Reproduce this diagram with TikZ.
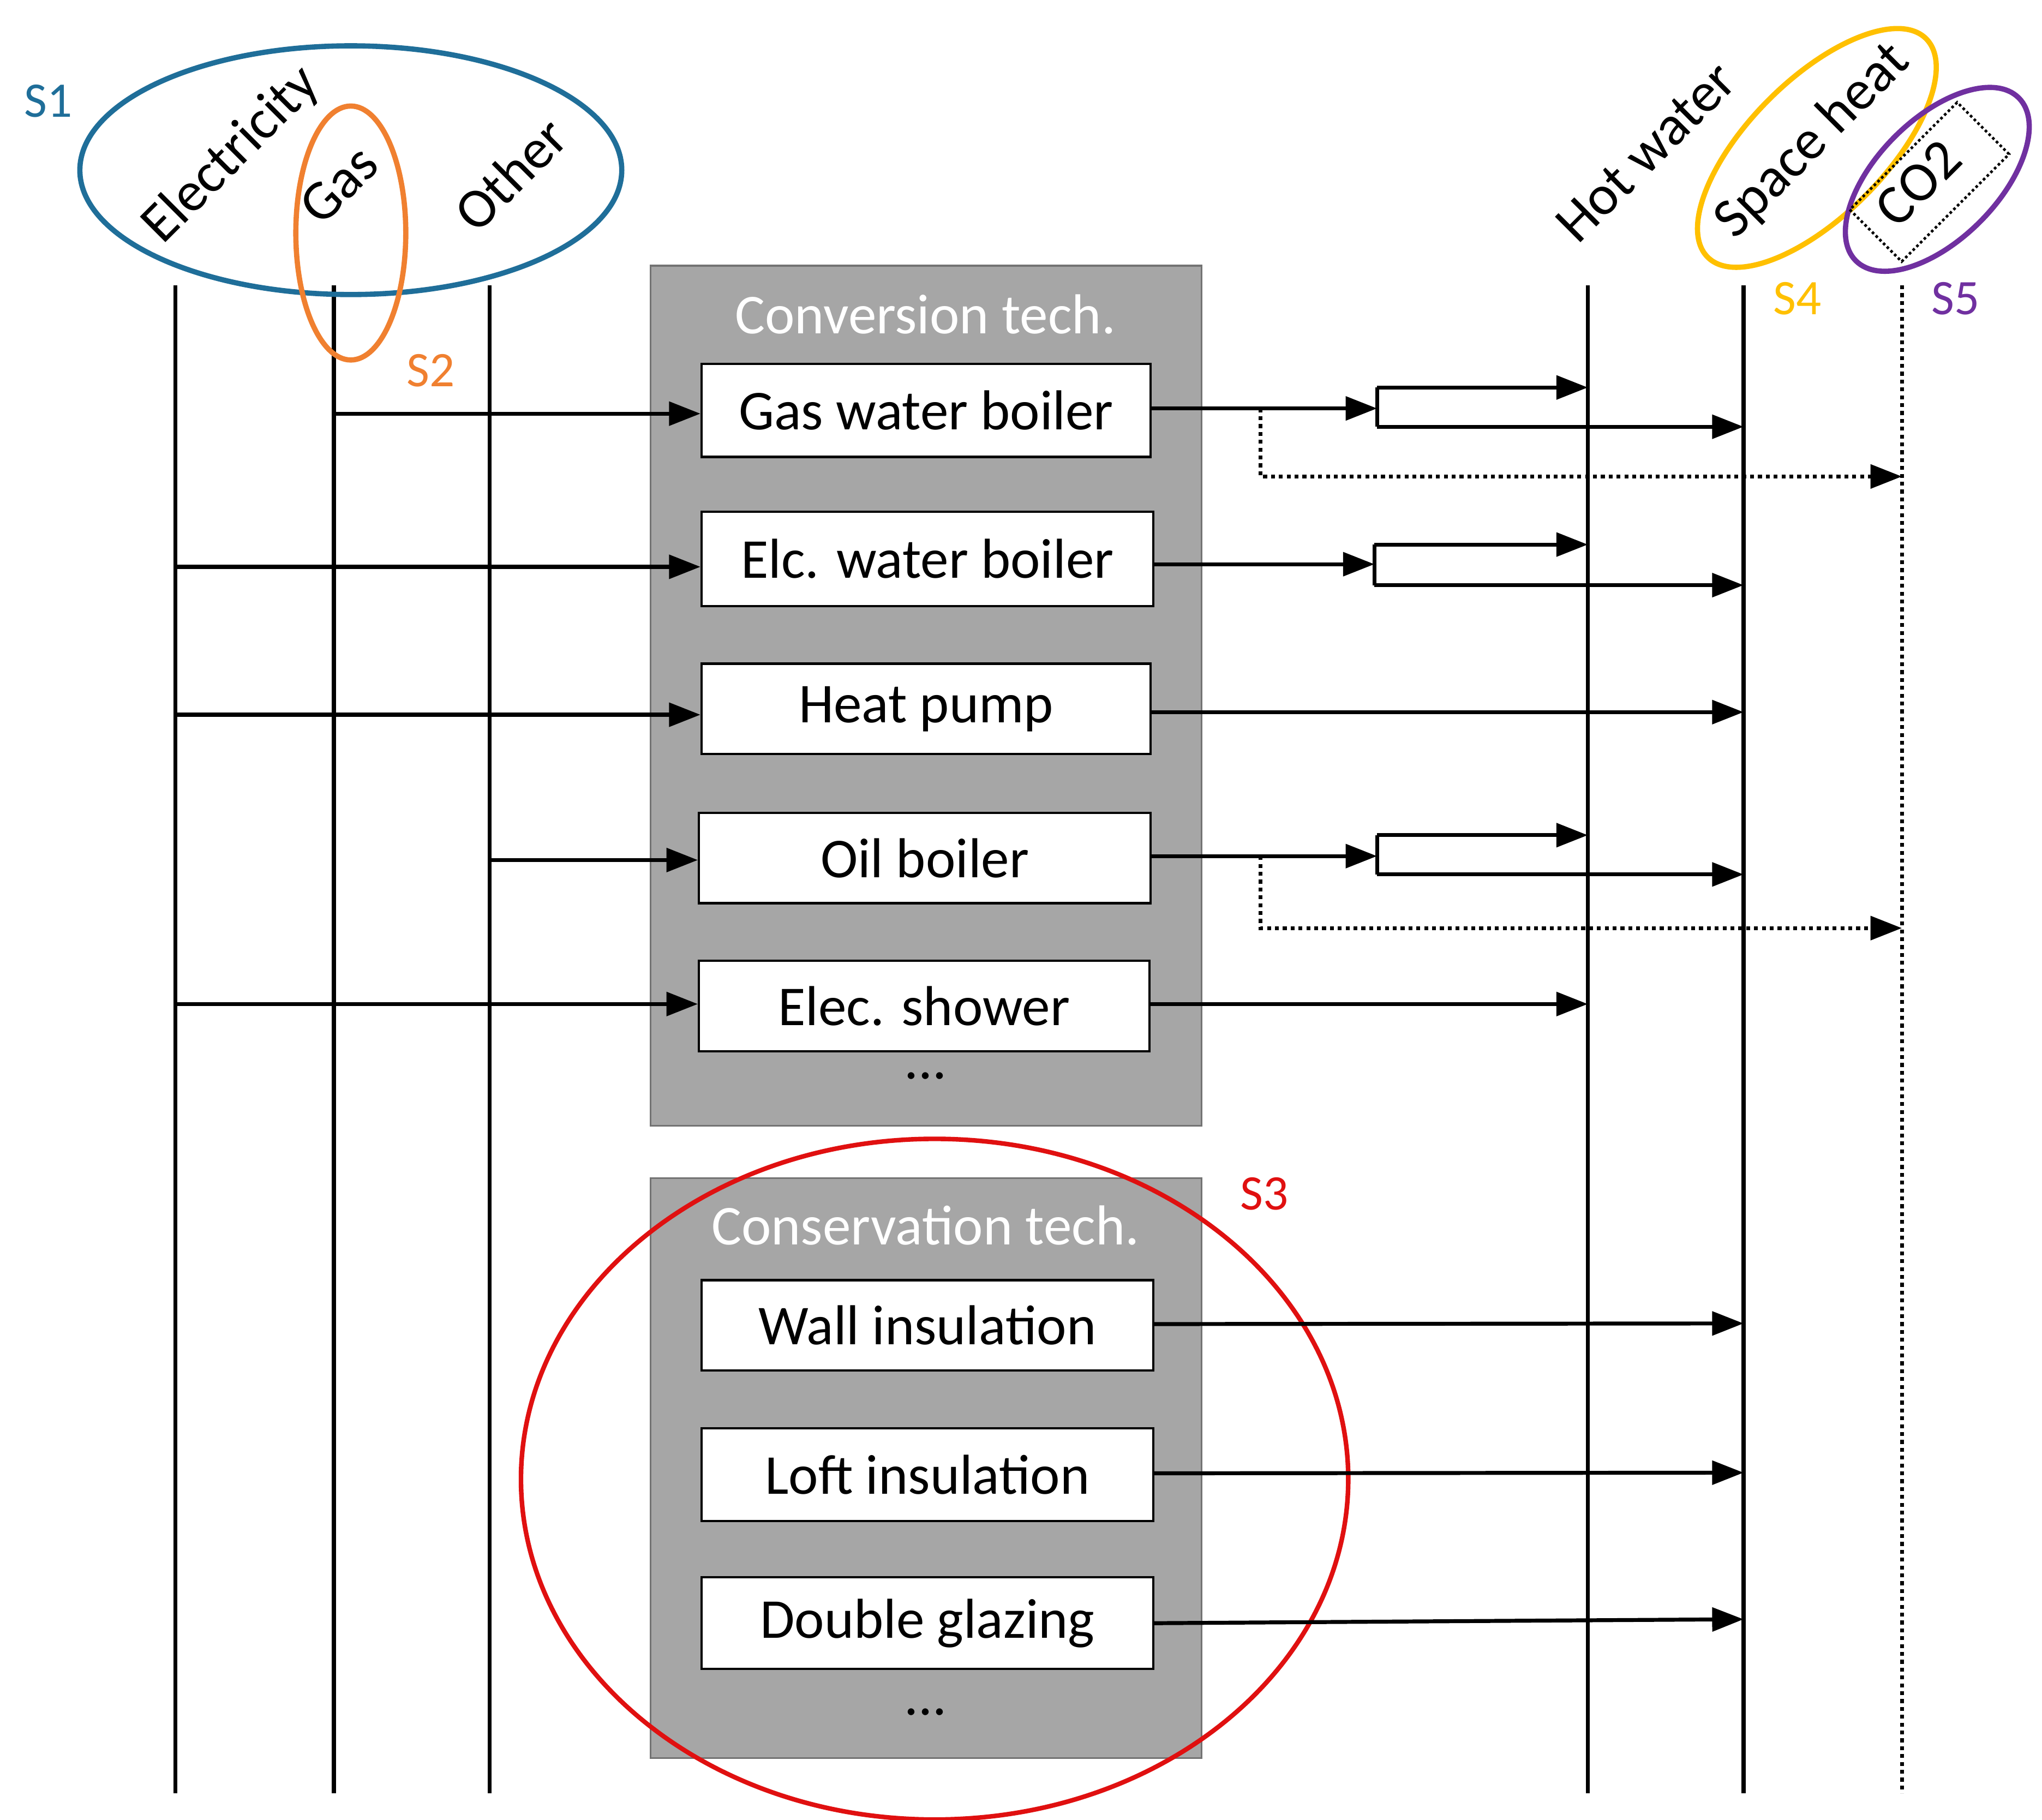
\documentclass[tikz,border=0pt]{standalone}
\usepackage{fontspec}
\setmainfont{Carlito}
\usetikzlibrary{arrows.meta}
\definecolor{cblue}{RGB}{31,110,153}
\definecolor{corange}{RGB}{240,128,48}
\definecolor{cred}{RGB}{224,16,16}
\definecolor{cyellow}{RGB}{255,192,0}
\definecolor{cpurple}{RGB}{112,48,160}
\definecolor{cgray}{RGB}{166,166,166}
\begin{document}
\begin{tikzpicture}[x=1pt,y=-1pt,
  every node/.style={font=\fontsize{43}{46}\selectfont},
  tech/.style={draw=black,line width=1.8pt,fill=white,inner sep=0pt},
  grp/.style={draw=gray!90!black,line width=1.5pt,fill=cgray},
  bar/.style={line width=3.2pt},
  arr/.style={line width=3pt,-{Triangle[length=24pt,width=18pt]}},
  dott/.style={line width=3pt,dash pattern=on 3pt off 3pt},
  lab/.style={rotate=45,anchor=base west},
  sl/.style={font=\fontsize{38}{40}\selectfont}]
\useasboundingbox (0,0) rectangle (1560,1390);
% bars
\draw[bar] (134,218) -- (134,1370);
\draw[bar] (255,218) -- (255,1370);
\draw[bar] (374,218) -- (374,1370);
\draw[bar] (1213,218) -- (1213,1370);
\draw[bar] (1332,218) -- (1332,1370);
\draw[dott] (1453,218) -- (1453,1370);
% groups
\node[grp,minimum width=421pt,minimum height=657pt] (g1) at (707.5,531.5) {};
\node[grp,minimum width=421pt,minimum height=443pt] (g2) at (707.5,1121.5) {};
\node[text=white] (t1) at (707,240) {Conversion tech.};
\node[text=white] (t2) at (707,936) {Conservation tech.};
\node (d1) at (707,822) {...};
\node (d2) at (707,1308) {...};
% tech boxes
\node[tech,minimum width=343pt,minimum height=71pt] (gwb) at (707.5,313.5) {Gas water boiler};
\node[tech,minimum width=345pt,minimum height=72pt] (ewb) at (708.5,427) {Elc. water boiler};
\node[tech,minimum width=343pt,minimum height=69pt] (hp) at (707.5,541.5) {Heat pump};
\node[tech,minimum width=345pt,minimum height=69pt] (ob) at (706.5,655.5) {Oil boiler};
\node[tech,minimum width=344pt,minimum height=69pt] (es) at (706,768.5) {Elec. shower};
\node[tech,minimum width=345pt,minimum height=69pt] (wi) at (708.5,1012.5) {Wall insulation};
\node[tech,minimum width=345pt,minimum height=71pt] (li) at (708.5,1126.5) {Loft insulation};
\node[tech,minimum width=345pt,minimum height=70pt] (dg) at (708.5,1240) {Double glazing};
% ellipses
\draw[cblue,line width=4pt] (268,130) ellipse (207 and 95);
\draw[corange,line width=4pt] (268,178) ellipse (42 and 97);
\draw[cred,line width=3.5pt] (714,1130) ellipse (316 and 260);
\draw[cyellow,line width=4pt,rotate around={45:(1388,113)}] (1388,113) ellipse (118 and 52);
\draw[cpurple,line width=4pt,rotate around={45:(1480,137)}] (1480,137) ellipse (88 and 46);
\draw[line width=2pt,dash pattern=on 2pt off 2pt,rotate around={45:(1474,139)}] (1416,111) rectangle (1532,167);
% rotated labels
\node[lab] (le) at (122,190) {Electricity};
\node[lab] (lg) at (243,176) {Gas};
\node[lab] (lo) at (362,182) {Other};
\node[lab] (lh) at (1203,190) {Hot water};
\node[lab] (ls) at (1323,186) {Space heat};
\node[lab] (lc) at (1447,178) {CO2};
% S labels
\node[sl,text=cblue] (s1) at (37,77) {S1};
\node[sl,text=corange] (s2) at (329,283) {S2};
\node[sl,text=cred] (s3) at (966,912) {S3};
\node[sl,text=cyellow] (s4) at (1373,228) {S4};
\node[sl,text=cpurple] (s5) at (1494,228) {S5};
% coordinates
\coordinate (g316) at (255,316);
\coordinate (e433) at (134,433);
\coordinate (e546) at (134,546);
\coordinate (o657) at (374,657);
\coordinate (e767) at (134,767);
% inputs
\draw[arr] (g316) -- (gwb.west|-g316);
\draw[arr] (e433) -- (ewb.west|-e433);
\draw[arr] (e546) -- (hp.west|-e546);
\draw[arr] (o657) -- (ob.west|-o657);
\draw[arr] (e767) -- (es.west|-e767);
% gas boiler outputs
\coordinate (a1) at (1052,312); \coordinate (a1t) at (1052,296); \coordinate (a1b) at (1052,326);
\draw[arr] (gwb.east|-a1) -- (a1);
\draw[line width=3pt] (a1t) -- (a1b);
\draw[arr] (a1t) -- (1213,296);
\draw[arr] (a1b) -- (1332,326);
\draw[dott,-{Triangle[length=24pt,width=18pt]}] (963,312) -- (963,364) -- (1453,364);
% elc boiler outputs
\coordinate (a2) at (1050,431); \coordinate (a2t) at (1050,416); \coordinate (a2b) at (1050,447);
\draw[arr] (ewb.east|-a2) -- (a2);
\draw[line width=3pt] (a2t) -- (a2b);
\draw[arr] (a2t) -- (1213,416);
\draw[arr] (a2b) -- (1332,447);
% heat pump
\draw[arr] (hp.east|-e546) ++(0,-2) -- (1332,544);
% oil boiler
\coordinate (a3) at (1052,654); \coordinate (a3t) at (1052,638); \coordinate (a3b) at (1052,668);
\draw[arr] (ob.east|-a3) -- (a3);
\draw[line width=3pt] (a3t) -- (a3b);
\draw[arr] (a3t) -- (1213,638);
\draw[arr] (a3b) -- (1332,668);
\draw[dott,-{Triangle[length=24pt,width=18pt]}] (963,654) -- (963,709) -- (1453,709);
% shower
\draw[arr] (es.east|-e767) -- (1213,767);
% conservation
\draw[arr] (wi.east) ++(0,-1) -- (1332,1011);
\draw[arr] (li.east) ++(0,-1) -- (1332,1125);
\draw[arr] (dg.east) -- (1332,1237);
\end{tikzpicture}
\end{document}
